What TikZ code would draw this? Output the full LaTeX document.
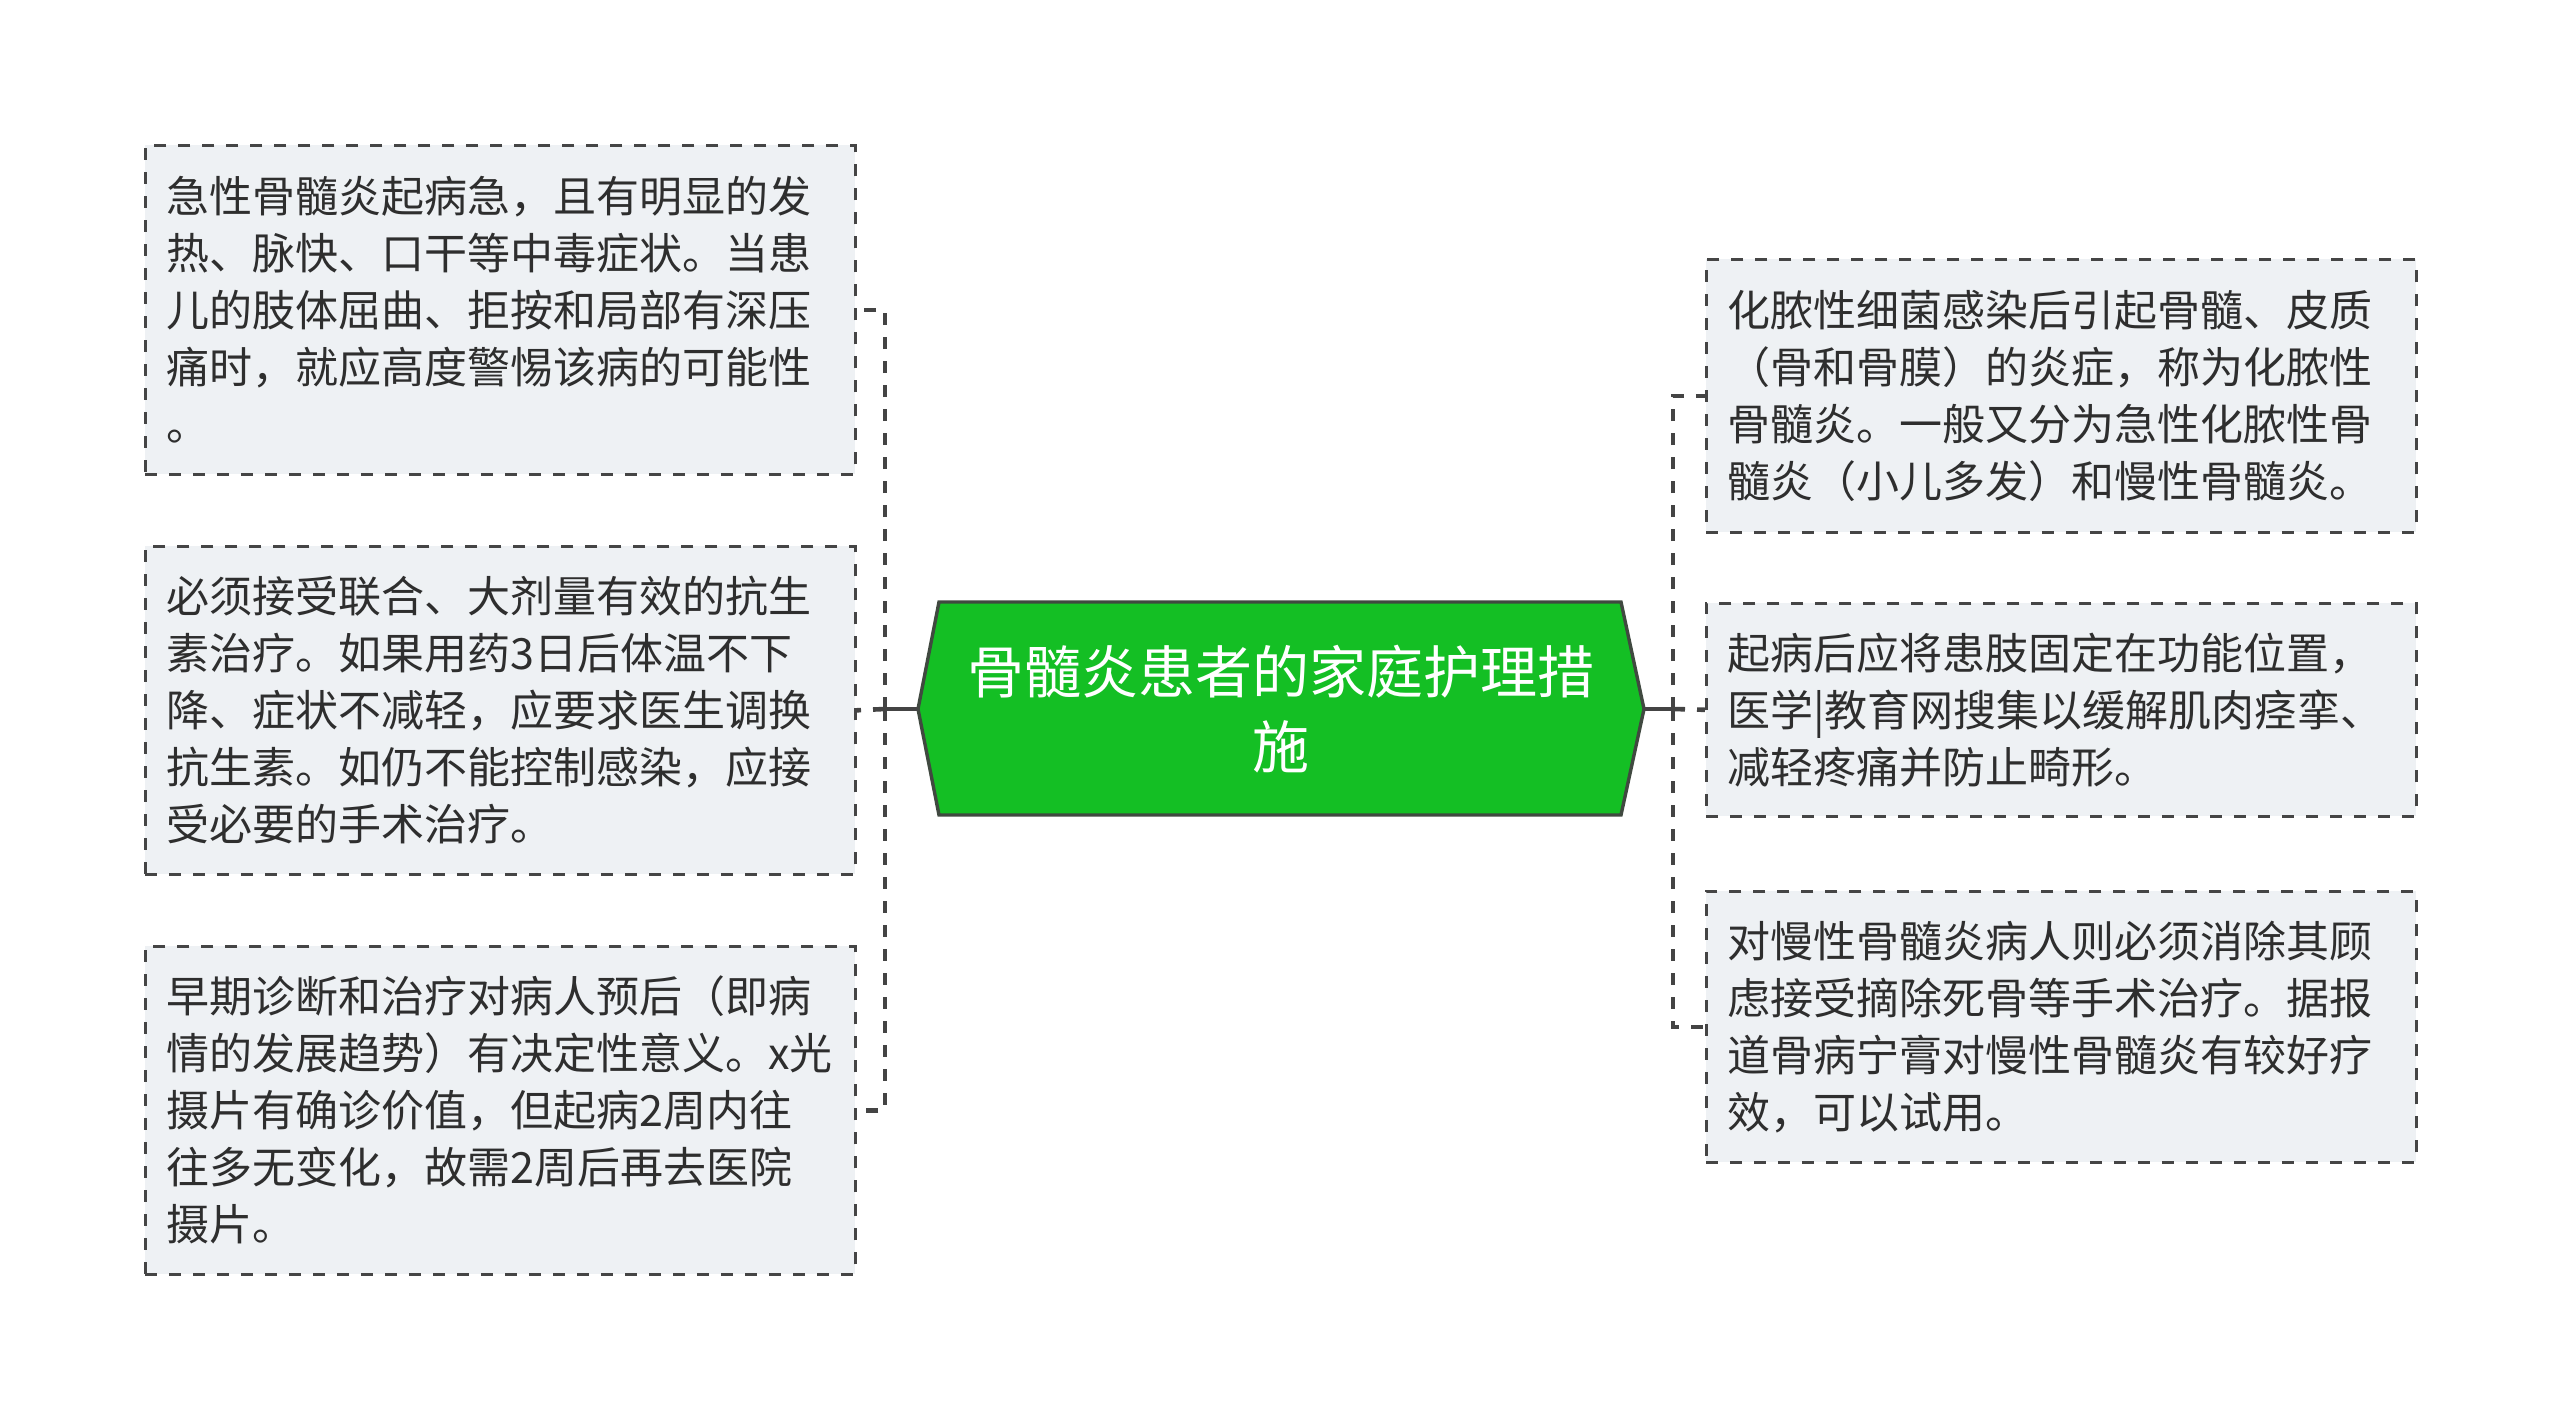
\documentclass[tikz,border=0pt]{standalone}
\usepackage{fontspec}
\newfontfamily\cjk{Noto Sans CJK SC}
\definecolor{boxfill}{HTML}{EEF1F4}
\definecolor{boxline}{HTML}{454545}
\definecolor{txt}{HTML}{2E2E2E}
\definecolor{rootfill}{HTML}{14BF24}
\definecolor{rootline}{HTML}{404940}
\definecolor{conn}{HTML}{444444}
\tikzset{
  leaf/.style={draw=boxline, fill=boxfill, dash pattern=on 6pt off 6pt, line width=1.3pt,
    text width=334pt, inner xsep=10.5pt, inner ysep=0pt, align=left, anchor=north west,
    text=txt, font=\cjk\fontsize{21.5pt}{28.5pt}\selectfont},
  hexshape/.style={draw=rootline, fill=rootfill, line width=1.7pt, line join=miter},
  rootnode/.style={minimum width=363pt, minimum height=106.5pt, inner sep=0pt, align=center,
    text=white, font=\cjk\fontsize{28.5pt}{37.5pt}\selectfont},
  trunkline/.style={draw=conn, line width=2.3pt, dash pattern=on 6pt off 6pt},
  solidline/.style={draw=conn, line width=1.6pt}
}
\begin{document}
\begin{tikzpicture}[x=0.5pt,y=-0.5pt]
\useasboundingbox (0,0) rectangle (2560,1419);
% root hexagon
\draw[hexshape] (918,709) -- (939,602) -- (1621,602) -- (1644,709) -- (1621,815) -- (939,815) -- cycle;
\node[rootnode] (root) at (1281,709) {骨髓炎患者的家庭护理措\\施};
% left leaves
\node[leaf, minimum height=164.5pt] (l1) at (144,144) {急性骨髓炎起病急，且有明显的发\\热、脉快、口干等中毒症状。当患\\儿的肢体屈曲、拒按和局部有深压\\痛时，就应高度警惕该病的可能性\\。};
\node[leaf, minimum height=164pt] (l2) at (144,545) {必须接受联合、大剂量有效的抗生\\素治疗。如果用药3日后体温不下\\降、症状不减轻，应要求医生调换\\抗生素。如仍不能控制感染，应接\\受必要的手术治疗。};
\node[leaf, minimum height=164pt] (l3) at (144,945) {早期诊断和治疗对病人预后（即病\\情的发展趋势）有决定性意义。x光\\摄片有确诊价值，但起病2周内往\\往多无变化，故需2周后再去医院\\摄片。};
% right leaves
\node[leaf, minimum height=136.5pt] (r1) at (1705,258) {化脓性细菌感染后引起骨髓、皮质\\（骨和骨膜）的炎症，称为化脓性\\骨髓炎。一般又分为急性化脓性骨\\髓炎（小儿多发）和慢性骨髓炎。};
\node[leaf, minimum height=106.5pt] (r2) at (1705,602) {起病后应将患肢固定在功能位置，\\医学|教育网搜集以缓解肌肉痉挛、\\减轻疼痛并防止畸形。};
\node[leaf, minimum height=135.5pt] (r3) at (1705,890) {对慢性骨髓炎病人则必须消除其顾\\虑接受摘除死骨等手术治疗。据报\\道骨病宁膏对慢性骨髓炎有较好疗\\效，可以试用。};
% connectors
\coordinate (lt) at (885,709);
\coordinate (rt) at (1673,709);
\draw[solidline] (root.west) -- (lt);
\draw[solidline] (root.east) -- (rt);
\draw[trunkline] (lt) |- (l1.east);
\draw[trunkline] (lt) -- (l2.east);
\draw[trunkline] (lt) |- (l3.east);
\draw[trunkline] (rt) |- (r1.west);
\draw[trunkline] (rt) -- (r2.west);
\draw[trunkline] (rt) |- (r3.west);
\end{tikzpicture}
\end{document}
